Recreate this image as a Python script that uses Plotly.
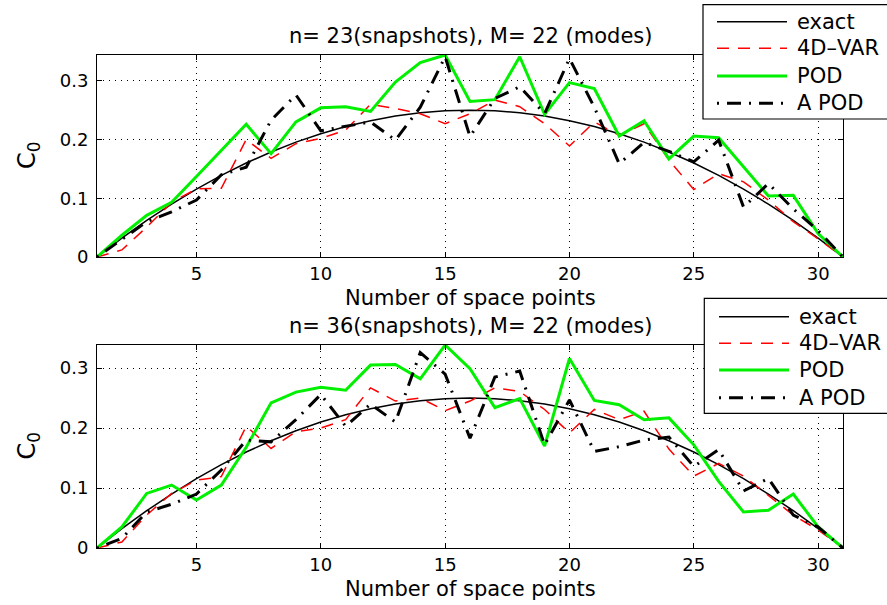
import plotly.graph_objects as go

# ---------------- data ----------------
x_points = list(range(1, 32))

exact = [0, 0.0322, 0.0622, 0.09, 0.1156, 0.1389, 0.16, 0.1789, 0.1956, 0.21, 0.2222,
         0.2322, 0.24, 0.2456, 0.2489, 0.25, 0.2489, 0.2456, 0.24, 0.2322, 0.2222, 0.21,
         0.1956, 0.1789, 0.16, 0.1389, 0.1156, 0.09, 0.0622, 0.0322, 0]

var_top = [0, 0.012, 0.051, 0.093, 0.116, 0.117, 0.2, 0.168, 0.193, 0.202, 0.216, 0.26,
           0.253, 0.244, 0.227, 0.244, 0.267, 0.256, 0.227, 0.189, 0.23, 0.207, 0.227,
           0.165, 0.115, 0.142, 0.128, 0.097, 0.06, 0.031, 0]
pod_top = [0, 0.037, 0.071, 0.093, 0.137, 0.182, 0.226, 0.176, 0.23, 0.254, 0.256, 0.248,
           0.298, 0.331, 0.344, 0.265, 0.268, 0.341, 0.243, 0.297, 0.287, 0.206, 0.232,
           0.167, 0.206, 0.203, 0.153, 0.104, 0.105, 0.04, 0]
apod_top = [0, 0.03, 0.06, 0.077, 0.097, 0.14, 0.153, 0.233, 0.276, 0.215, 0.222, 0.23,
            0.199, 0.255, 0.341, 0.205, 0.27, 0.29, 0.244, 0.338, 0.255, 0.159, 0.195,
            0.18, 0.162, 0.199, 0.085, 0.125, 0.082, 0.045, 0]

var_bot = [0, 0.01, 0.055, 0.091, 0.113, 0.119, 0.203, 0.166, 0.194, 0.2, 0.214, 0.267,
           0.245, 0.25, 0.229, 0.245, 0.267, 0.261, 0.231, 0.192, 0.231, 0.214, 0.228,
           0.165, 0.12, 0.141, 0.12, 0.088, 0.055, 0.03, 0]
pod_bot = [0, 0.035, 0.091, 0.105, 0.08, 0.105, 0.168, 0.242, 0.26, 0.268, 0.263, 0.305,
           0.306, 0.282, 0.3385, 0.299, 0.234, 0.249, 0.17, 0.316, 0.246, 0.239, 0.214,
           0.217, 0.172, 0.111, 0.06, 0.063, 0.09, 0.035, 0]
apod_bot = [0, 0.016, 0.06, 0.073, 0.09, 0.13, 0.18, 0.177, 0.214, 0.256, 0.203, 0.24,
            0.21, 0.326, 0.29, 0.183, 0.285, 0.295, 0.172, 0.247, 0.161, 0.169, 0.18,
            0.185, 0.136, 0.164, 0.095, 0.116, 0.055, 0.035, 0]

series_names = ["exact", "4D\u2013VAR", "POD", "A POD"]
titles = ["n= 23(snapshots), M= 22 (modes)", "n= 36(snapshots), M= 22 (modes)"]
x_ticks = [5, 10, 15, 20, 25, 30]
y_ticks = [0, 0.1, 0.2, 0.3]
y_ticklabels = ["0", "0.1", "0.2", "0.3"]
x_label = "Number of space points"
y_label = "C<sub>0</sub>"

# ---------------- geometry (pixels) ----------------
W, H = 887, 605
L, R = 97, 843
TOP1, BOT1 = 55, 257
TOP2, BOT2 = 345, 548

def px(xp):
    return (xp - L) / (R - L)

def py(yp):
    return (BOT2 - yp) / (BOT2 - TOP1)

FONT = "DejaVu Sans"

styles = [
    dict(color="black", width=1.5, dash="solid"),
    dict(color="#FF0000", width=1.5, dash="12px,9px"),
    dict(color="#00F000", width=3, dash="solid"),
    dict(color="black", width=3, dash="2px,8px,14px,8px"),
]

fig = go.Figure()
panels = [
    ("x", "y", [exact, var_top, pod_top, apod_top]),
    ("x2", "y2", [exact, var_bot, pod_bot, apod_bot]),
]
for xa, ya, ser in panels:
    for name, vals, st in zip(series_names, ser, styles):
        fig.add_trace(go.Scatter(x=x_points, y=vals, mode="lines", name=name,
                                 line=st, xaxis=xa, yaxis=ya, showlegend=False))

axis_common = dict(showline=True, linecolor="black", linewidth=1, mirror="ticks",
                   ticks="inside", ticklen=5, tickcolor="black", zeroline=False,
                   showgrid=True, gridcolor="black", gridwidth=1, griddash="1px,5px",
                   tickfont=dict(family=FONT, size=18, color="black"))

fig.update_layout(
    width=W, height=H,
    margin=dict(l=L, r=W - R, t=TOP1, b=H - BOT2),
    paper_bgcolor="white", plot_bgcolor="white",
    xaxis=dict(range=[1, 31], tickvals=x_ticks, domain=[0, 1], anchor="y", **axis_common),
    yaxis=dict(range=[0, 0.344], tickvals=y_ticks, ticktext=y_ticklabels,
               domain=[py(BOT1), 1], anchor="x", ticklabelstandoff=4, **axis_common),
    xaxis2=dict(range=[1, 31], tickvals=x_ticks, domain=[0, 1], anchor="y2", **axis_common),
    yaxis2=dict(range=[0, 0.3385], tickvals=y_ticks, ticktext=y_ticklabels,
                domain=[0, py(TOP2)], anchor="x2", ticklabelstandoff=4, **axis_common),
    showlegend=False,
)

ann = []
shapes = []
# titles and axis labels
for title, top, bot in [(titles[0], TOP1, BOT1), (titles[1], TOP2, BOT2)]:
    ann.append(dict(text=title, x=0.5, y=py(top - 19), xref="paper", yref="paper",
                    xanchor="center", yanchor="middle", showarrow=False,
                    font=dict(family=FONT, size=21, color="black")))
    ann.append(dict(text=x_label, x=0.5, y=py(bot + 41), xref="paper", yref="paper",
                    xanchor="center", yanchor="middle", showarrow=False,
                    font=dict(family=FONT, size=21, color="black")))
    ann.append(dict(text=y_label, x=px(28), y=py((top + bot) / 2), xref="paper", yref="paper",
                    xanchor="center", yanchor="middle", showarrow=False, textangle=-90,
                    font=dict(family=FONT, size=24, color="black")))

# manual legends (box, line samples, labels)
legends = [
    dict(left=703, right=890, top=4.7, bottom=119, rows=[21.7, 48.3, 76, 103.3],
         l0=717, l1=787, tx=795),
    dict(left=704.3, right=890, top=298.3, bottom=413.3, rows=[316.7, 343.3, 370, 397.7],
         l0=719, l1=789, tx=796.7),
]
for lg in legends:
    shapes.append(dict(type="rect", xref="paper", yref="paper",
                       x0=px(lg["left"]), x1=px(lg["right"]),
                       y0=py(lg["bottom"]), y1=py(lg["top"]),
                       line=dict(color="black", width=1.2), fillcolor="white", layer="above"))
    for name, st, row in zip(series_names, styles, lg["rows"]):
        shapes.append(dict(type="line", xref="paper", yref="paper",
                           x0=px(lg["l0"]), x1=px(lg["l1"]), y0=py(row), y1=py(row),
                           line=st, layer="above"))
        ann.append(dict(text=name, x=px(lg["tx"]), y=py(row), xref="paper", yref="paper",
                        xanchor="left", yanchor="middle", showarrow=False,
                        font=dict(family=FONT, size=21, color="black")))

fig.update_layout(annotations=ann, shapes=shapes)
fig.write_html(
    "out.html",
    config={"displayModeBar": False},
    post_script="document.body.style.margin='0';document.body.style.overflow='hidden';",
)
